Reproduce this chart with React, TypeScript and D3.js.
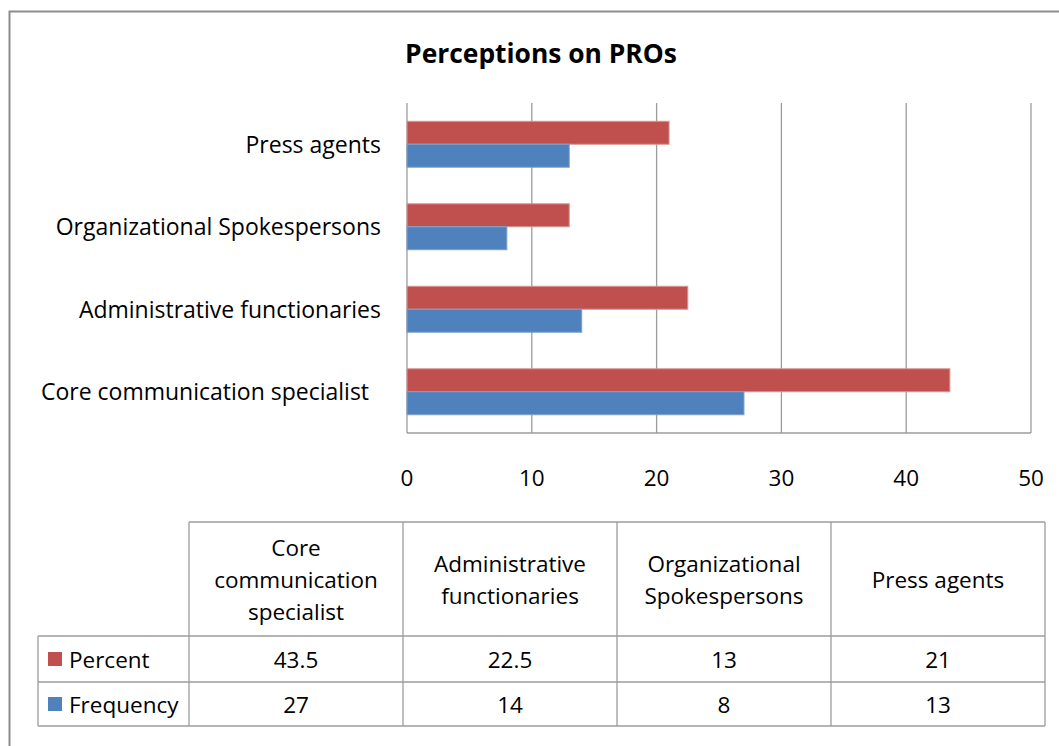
import React from "react";
import * as d3 from "d3";

const categories = [
  "Core communication specialist",
  "Administrative functionaries",
  "Organizational Spokespersons",
  "Press agents",
];
const headerLines = [
  ["Core", "communication", "specialist"],
  ["Administrative", "functionaries"],
  ["Organizational", "Spokespersons"],
  ["Press agents"],
];
const seriesNames = ["Percent", "Frequency"];
const percent = [43.5, 22.5, 13, 21];
const frequency = [27, 14, 8, 13];
const xTicks = [0, 10, 20, 30, 40, 50];

const COLORS: Record<string, string> = { Percent: "#C0504D", Frequency: "#4F81BD" };
const EDGE: Record<string, string> = { Percent: "#D99694", Frequency: "#7BA0CD" };
const FONT = "'Open Sans', sans-serif";
const GRID = "#9c9c9c";

export default function App() {
  const W = 1059, H = 746;
  const plot = { left: 407, right: 1031, top: 103, bottom: 433 };
  const x = d3.scaleLinear().domain([0, 50]).range([plot.left, plot.right]);
  const y = d3
    .scaleBand<string>()
    .domain([...categories].reverse())
    .range([plot.top, plot.bottom])
    .paddingInner(0.443)
    .paddingOuter(0.2215);
  const sub = d3.scaleBand<string>().domain(seriesNames).range([0, y.bandwidth()]);
  const values: Record<string, number[]> = { Percent: percent, Frequency: frequency };

  // table geometry
  const tableLeft = 38;
  const col = d3.scaleBand<string>().domain(categories).range([189, 1045]);
  const rowY = [522, 636, 682, 726];
  const headerMid = (rowY[0] + rowY[1]) / 2;
  const lineH = 32;

  return (
    <svg width={W} height={H} style={{ position: "absolute", left: 0, top: 0, background: "#fff" }}>
      <rect x={0} y={0} width={W} height={H} fill="#fff" />
      <rect x={9.5} y={11.5} width={1080} height={780} fill="none" stroke="#8c8c8c" strokeWidth={2} />

      <text x={541} y={53} textAnchor="middle" dominantBaseline="central" fontFamily={FONT} fontWeight="bold" fontSize={26.4} fill="#000">
        Perceptions on PROs
      </text>

      {/* gridlines */}
      {xTicks.map((t) => (
        <line key={t} x1={x(t)} x2={x(t)} y1={plot.top} y2={plot.bottom} stroke={GRID} strokeWidth={1.3} />
      ))}
      <line x1={plot.left} x2={plot.right} y1={plot.bottom} y2={plot.bottom} stroke={GRID} strokeWidth={1.3} />

      {/* bars */}
      {seriesNames.map((s) =>
        categories.map((c, i) => (
          <rect
            key={s + c}
            x={x(0)}
            y={(y(c) as number) + (sub(s) as number)}
            width={x(values[s][i]) - x(0)}
            height={sub.bandwidth()}
            fill={COLORS[s]}
            stroke={EDGE[s]}
            strokeWidth={1}
          />
        ))
      )}

      {/* category labels */}
      {categories.map((c, i) => (
        <text
          key={c}
          x={381}
          y={(y(c) as number) + y.bandwidth() / 2 - 0.5}
          textAnchor="end"
          dominantBaseline="central"
          fontFamily={FONT}
          fontSize={23}
          fill="#000"
          style={{ whiteSpace: "pre" }}
        >
          {i === 0 ? c + "  " : c}
        </text>
      ))}

      {/* x tick labels */}
      {xTicks.map((t) => (
        <text key={t} x={x(t)} y={477} textAnchor="middle" dominantBaseline="central" fontFamily={FONT} fontSize={22.5} fill="#000">
          {t}
        </text>
      ))}

      {/* data table */}
      <g stroke={GRID} strokeWidth={1.3} fill="none">
        <line x1={189} x2={1045} y1={rowY[0]} y2={rowY[0]} />
        <line x1={tableLeft} x2={1045} y1={rowY[1]} y2={rowY[1]} />
        <line x1={tableLeft} x2={1045} y1={rowY[2]} y2={rowY[2]} />
        <line x1={tableLeft} x2={1045} y1={rowY[3]} y2={rowY[3]} />
        <line x1={tableLeft} x2={tableLeft} y1={rowY[1]} y2={rowY[3]} />
        {categories.map((c) => (
          <line key={c} x1={col(c)} x2={col(c)} y1={rowY[0]} y2={rowY[3]} />
        ))}
        <line x1={1045} x2={1045} y1={rowY[0]} y2={rowY[3]} />
      </g>

      {categories.map((c, i) => {
        const lines = headerLines[i];
        const cx = (col(c) as number) + col.bandwidth() / 2;
        return lines.map((l, j) => (
          <text
            key={c + j}
            x={cx}
            y={headerMid + (j - (lines.length - 1) / 2) * lineH}
            textAnchor="middle"
            dominantBaseline="central"
            fontFamily={FONT}
            fontSize={22.5}
            fill="#000"
          >
            {l}
          </text>
        ));
      })}

      {seriesNames.map((s, r) => {
        const cy = (rowY[r + 1] + rowY[r + 2]) / 2;
        return (
          <g key={s}>
            <rect x={48} y={cy - 7} width={14} height={14} fill={COLORS[s]} />
            <text x={69} y={cy} dominantBaseline="central" fontFamily={FONT} fontSize={22.5} fill="#000">
              {s}
            </text>
            {categories.map((c, i) => (
              <text
                key={c}
                x={(col(c) as number) + col.bandwidth() / 2}
                y={cy}
                textAnchor="middle"
                dominantBaseline="central"
                fontFamily={FONT}
                fontSize={22.5}
                fill="#000"
              >
                {values[s][i]}
              </text>
            ))}
          </g>
        );
      })}
    </svg>
  );
}
